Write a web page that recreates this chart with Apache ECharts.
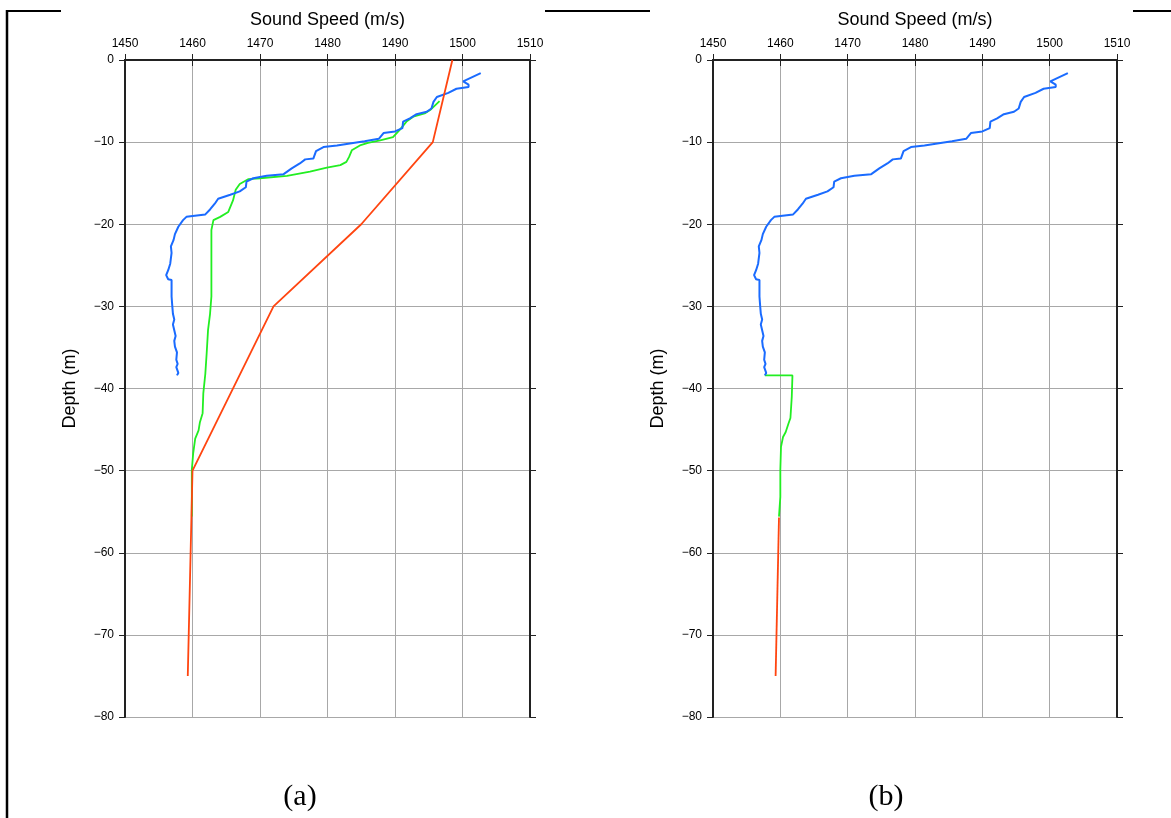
<!DOCTYPE html>
<html>
<head>
<meta charset="utf-8">
<script src="https://cdn.jsdelivr.net/npm/echarts@6/dist/echarts.min.js"></script>
<style>
html,body{margin:0;padding:0;background:#fff;}
#chart{width:1171px;height:818px;}
</style>
</head>
<body>
<div id="chart"></div>
<script>
// ---- data: [sound speed (m/s), depth (m)] ----
const speedTicks = [1450, 1460, 1470, 1480, 1490, 1500, 1510];
const depthTicks = [0, -10, -20, -30, -40, -50, -60, -70, -80];
const panelLabels = ['(a)', '(b)'];

const measuredProfile = [
  [1502.7,-1.6],[1500.1,-2.6],[1500.9,-3.0],[1500.9,-3.3],[1499.1,-3.5],[1497.9,-4.0],
  [1496.2,-4.5],[1495.7,-5.1],[1495.4,-5.9],[1494.7,-6.3],[1493.2,-6.6],[1492.2,-7.1],
  [1491.2,-7.5],[1491.1,-8.3],[1490.0,-8.7],[1488.3,-8.9],[1487.6,-9.6],[1485.5,-9.9],
  [1483.8,-10.1],[1481.4,-10.4],[1479.4,-10.6],[1478.3,-11.1],[1477.9,-12.0],[1476.7,-12.1],
  [1475.9,-12.6],[1474.7,-13.2],[1473.5,-13.9],[1471.0,-14.1],[1469.0,-14.4],[1468.0,-14.8],
  [1467.9,-15.5],[1467.0,-16.0],[1465.6,-16.4],[1463.8,-16.9],[1463.3,-17.5],[1462.6,-18.2],
  [1461.9,-18.8],[1459.1,-19.1],[1458.6,-19.5],[1457.9,-20.3],[1457.4,-21.2],[1457.2,-21.9],
  [1456.8,-22.7],[1456.9,-23.5],[1456.7,-24.8],[1456.4,-25.6],[1456.1,-26.2],[1456.4,-26.7],
  [1456.9,-26.8],[1456.9,-28.8],[1457.0,-29.9],[1457.1,-30.9],[1457.3,-31.6],[1457.1,-32.2],
  [1457.3,-32.9],[1457.5,-33.6],[1457.3,-34.2],[1457.4,-34.9],[1457.7,-35.6],[1457.6,-36.5],
  [1457.8,-37.0],[1457.6,-37.4],[1457.9,-38.1],[1457.7,-38.4]
];

const modelProfileA = [
  [1496.6,-5.0],[1495.2,-6.1],[1494.4,-6.5],[1492.7,-6.9],[1491.7,-7.5],[1490.7,-8.5],
  [1489.7,-9.4],[1487.8,-9.8],[1486.0,-10.1],[1484.8,-10.4],[1483.6,-11.0],[1483.2,-11.8],
  [1482.8,-12.4],[1481.9,-12.8],[1479.9,-13.1],[1477.4,-13.6],[1474.0,-14.1],[1470.0,-14.4],
  [1468.3,-14.5],[1467.0,-15.1],[1466.4,-15.8],[1466.0,-17.1],[1465.3,-18.5],[1464.1,-19.1],
  [1463.1,-19.5],[1462.8,-20.7],[1462.8,-22.7],[1462.8,-28.8],[1462.6,-30.9],[1462.3,-32.9],
  [1462.1,-35.7],[1461.9,-38.2],[1461.6,-40.6],[1461.5,-43.0],[1461.1,-44.1],[1460.9,-45.1],
  [1460.4,-46.1],[1460.1,-47.9],[1459.9,-49.9],[1459.9,-55.6]
];

const modelProfileB = [
  [1457.7,-38.4],[1461.8,-38.4],[1461.7,-41.0],[1461.5,-43.6],[1461.2,-44.3],[1460.8,-45.3],
  [1460.4,-45.9],[1460.1,-47.1],[1460.0,-49.9],[1460.0,-53.2],[1459.8,-55.6]
];

const climatologyA = [[1498.5,0],[1495.6,-10],[1485.0,-20],[1472.0,-30],[1460.0,-50],[1459.3,-75]];
const climatologyB = [[1459.8,-55.7],[1459.3,-75]];

// ---- chart ----
const chart = echarts.init(document.getElementById('chart'), null, {renderer: 'canvas'});
const FONT = '"Liberation Sans", Arial, Helvetica, sans-serif';
const minus = v => String(v).replace('-', '\u2212');
const plain = v => String(v);
const AXC = '#222';
const GRIDC = '#a8a8a8';

function xAxes(gi) {
  return [
    { gridIndex: gi, type: 'value', position: 'top', min: speedTicks[0], max: speedTicks[speedTicks.length-1], interval: 10,
      name: 'Sound Speed (m/s)', nameLocation: 'middle', nameGap: 31,
      nameTextStyle: {fontFamily: FONT, fontSize: 18, color: '#000'},
      axisLine: {show: true, lineStyle: {color: AXC, width: 2}},
      axisTick: {show: true, length: 6, lineStyle: {color: AXC, width: 1}},
      axisLabel: {fontFamily: FONT, fontSize: 12, color: '#000', margin: 10, formatter: plain},
      splitLine: {show: true, lineStyle: {color: GRIDC, width: 1}} },
    { gridIndex: gi, type: 'value', position: 'bottom', min: speedTicks[0], max: speedTicks[speedTicks.length-1], interval: 10,
      axisLine: {show: true, lineStyle: {color: AXC, width: 2}},
      axisTick: {show: true, length: 6, lineStyle: {color: AXC, width: 1}},
      axisLabel: {show: false}, splitLine: {show: false} }
  ];
}
function yAxes(gi) {
  return [
    { gridIndex: gi, type: 'value', position: 'left', min: depthTicks[depthTicks.length-1], max: depthTicks[0], interval: 10,
      name: 'Depth (m)', nameLocation: 'middle', nameGap: 46,
      nameTextStyle: {fontFamily: FONT, fontSize: 18, color: '#000'},
      axisLine: {show: true, lineStyle: {color: AXC, width: 2}},
      axisTick: {show: true, length: 6, lineStyle: {color: AXC, width: 1}},
      axisLabel: {fontFamily: FONT, fontSize: 12, color: '#000', margin: 11, formatter: minus},
      splitLine: {show: true, lineStyle: {color: GRIDC, width: 1}} },
    { gridIndex: gi, type: 'value', position: 'right', min: depthTicks[depthTicks.length-1], max: depthTicks[0], interval: 10,
      axisLine: {show: true, lineStyle: {color: AXC, width: 2}},
      axisTick: {show: true, length: 6, lineStyle: {color: AXC, width: 1}},
      axisLabel: {show: false}, splitLine: {show: false} }
  ];
}
function line(data, color, gi, width, z) {
  return { type: 'line', data: data, xAxisIndex: gi*2, yAxisIndex: gi*2, showSymbol: false, symbol: 'none',
    lineStyle: {color: color, width: width}, z: z, animation: false, silent: true };
}
const BLUE = '#1a6bff', GREEN = '#22ee22', ORANGE = '#ff4510';

chart.setOption({
  animation: false,
  backgroundColor: '#fff',
  grid: [
    {left: 125, top: 60, width: 405, height: 657},
    {left: 713, top: 60, width: 404, height: 657}
  ],
  xAxis: xAxes(0).concat(xAxes(1)),
  yAxis: yAxes(0).concat(yAxes(1)),
  series: [
    line(modelProfileA, GREEN, 0, 1.8, 2),
    line(measuredProfile, BLUE, 0, 2, 3),
    line(climatologyA, ORANGE, 0, 1.8, 4),
    line(modelProfileB, GREEN, 1, 1.8, 2),
    line(measuredProfile, BLUE, 1, 2, 3),
    line(climatologyB, ORANGE, 1, 1.8, 4)
  ],
  graphic: [
    {type: 'line', shape: {x1: 7, y1: 10, x2: 7, y2: 818}, style: {stroke: '#000', lineWidth: 2.5}},
    {type: 'line', shape: {x1: 6, y1: 11, x2: 61, y2: 11}, style: {stroke: '#000', lineWidth: 2}},
    {type: 'line', shape: {x1: 545, y1: 11, x2: 650, y2: 11}, style: {stroke: '#000', lineWidth: 2}},
    {type: 'line', shape: {x1: 1133, y1: 11, x2: 1171, y2: 11}, style: {stroke: '#000', lineWidth: 2}},
    {type: 'text', x: 300, y: 797, style: {text: panelLabels[0], fontFamily: '"Liberation Serif", "Times New Roman", serif', fontSize: 30, fill: '#000', textAlign: 'center', textVerticalAlign: 'middle'}},
    {type: 'text', x: 886, y: 797, style: {text: panelLabels[1], fontFamily: '"Liberation Serif", "Times New Roman", serif', fontSize: 30, fill: '#000', textAlign: 'center', textVerticalAlign: 'middle'}}
  ]
});
</script>
</body>
</html>
